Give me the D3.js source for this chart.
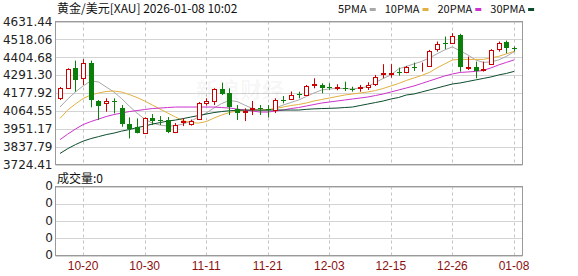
<!DOCTYPE html>
<html>
<head>
<meta charset="utf-8">
<script src="https://cdn.jsdelivr.net/npm/d3@7"></script>
<style>
body { margin: 0; background: #fff; }
text { font-family: "Noto Sans CJK SC", "DejaVu Sans", sans-serif; }
</style>
</head>
<body>
<div id="chart"></div>
<script>
// 黄金/美元 daily K line, 10-15 .. 01-08 (60 sessions)

// date labels and the session index they sit on
const tickLabels = ["10-20", "10-30", "11-11", "11-21", "12-03", "12-15", "12-26", "01-08"];
const tickIndex = [3, 11, 19, 27, 35, 43, 51, 59];

// price axis ticks
const yTicks = [3724.41, 3837.79, 3951.17, 4064.55, 4177.92, 4291.30, 4404.68, 4518.06, 4631.44];
const volTicks = [0, 0, 0, 0, 0];

// OHLC
const openP = [4144.2, 4207.8, 4335.0, 4271.4, 4366.8, 4127.1, 4112.4, 4129.0, 4080.6, 3978.8,
    3959.7, 3925.4, 4020.8, 4006.2, 4006.2, 3931.8, 3993.5, 3978.8, 4010.6, 4117.5,
    4129.0, 4201.5, 4176.0, 4074.3, 4057.1, 4076.2, 4080.6, 4074.3, 4069.8, 4131.5,
    4139.8, 4174.7, 4165.2, 4230.1, 4228.8, 4214.2, 4211.6, 4207.8, 4203.4, 4208.5,
    4218.0, 4233.3, 4296.9, 4300.0, 4313.4, 4310.2, 4345.2, 4335.0, 4349.7, 4455.9,
    4494.1, 4494.1, 4546.8, 4338.9, 4341.4, 4326.1, 4362.4, 4455.9, 4504.2, 4462.3];
const highP = [4216.1, 4335.0, 4383.4, 4392.3, 4383.4, 4133.4, 4144.2, 4144.2, 4101.6, 4023.4,
    4017.0, 4023.4, 4044.3, 4031.6, 4025.3, 3987.1, 4017.0, 4009.4, 4120.7, 4144.2,
    4207.8, 4243.4, 4207.8, 4101.6, 4080.6, 4127.1, 4101.6, 4101.6, 4144.2, 4158.8,
    4187.5, 4186.2, 4228.8, 4271.4, 4239.6, 4239.6, 4233.3, 4249.8, 4218.0, 4228.8,
    4246.0, 4292.5, 4360.5, 4360.5, 4338.9, 4349.7, 4370.7, 4370.7, 4451.4, 4504.2,
    4536.0, 4557.6, 4553.2, 4408.8, 4377.0, 4377.0, 4455.9, 4504.2, 4510.6, 4472.4];
const lowP = [4133.4, 4203.4, 4186.2, 4228.8, 4087.0, 4006.2, 4059.0, 4048.8, 3963.6, 3889.8,
    3921.6, 3917.1, 3974.4, 3974.4, 3923.5, 3923.5, 3968.0, 3971.2, 4006.2, 4098.4,
    4101.6, 4165.2, 4038.0, 4006.2, 3999.8, 4038.0, 4038.0, 4023.4, 4050.7, 4112.4,
    4133.4, 4144.2, 4158.8, 4207.8, 4176.0, 4197.0, 4195.1, 4190.6, 4186.2, 4186.2,
    4197.0, 4222.5, 4271.4, 4275.2, 4288.0, 4303.2, 4317.9, 4313.4, 4345.2, 4440.6,
    4455.9, 4489.6, 4313.4, 4324.2, 4271.4, 4313.4, 4356.0, 4440.6, 4429.6, 4440.6];
const closeP = [4207.8, 4328.7, 4260.6, 4366.8, 4133.4, 4097.2, 4129.0, 4118.8, 3980.7, 3950.9,
    3925.4, 4017.0, 4001.7, 4001.1, 3931.8, 3974.4, 4001.7, 3999.8, 4112.4, 4127.1,
    4201.5, 4171.6, 4087.0, 4052.6, 4063.4, 4084.4, 4074.3, 4069.8, 4133.4, 4127.1,
    4165.2, 4165.2, 4222.5, 4235.2, 4211.6, 4209.7, 4218.0, 4201.5, 4197.0, 4212.9,
    4228.8, 4281.6, 4303.2, 4305.1, 4303.2, 4345.2, 4338.9, 4338.9, 4445.1, 4489.6,
    4487.7, 4540.5, 4341.4, 4345.2, 4319.8, 4330.6, 4451.4, 4497.9, 4466.3, 4454.6];

// moving averages
const ma5 = [4088.9, 4139.8, 4184.3, 4222.5, 4254.3, 4247.9, 4216.1, 4184.3, 4142.9, 4095.2,
    4050.7, 4012.5, 3987.1, 3974.4, 3968.0, 3971.2, 3980.7, 3999.8, 4025.3, 4050.7,
    4082.5, 4111.1, 4130.2, 4123.9, 4101.6, 4079.3, 4066.6, 4065.3, 4082.5, 4101.6,
    4117.5, 4133.4, 4155.7, 4177.9, 4197.0, 4203.4, 4206.6, 4206.6, 4203.4, 4209.7,
    4219.3, 4244.7, 4270.2, 4292.4, 4330.6, 4346.5, 4362.4, 4378.3, 4400.6, 4426.0,
    4451.5, 4470.5, 4445.1, 4419.6, 4387.8, 4371.9, 4375.1, 4387.8, 4410.1, 4438.7];
const ma10 = [4017.0, 4069.8, 4108.0, 4142.9, 4165.2, 4177.9, 4187.5, 4190.6, 4184.3, 4168.4,
    4149.3, 4127.0, 4101.6, 4076.2, 4050.7, 4025.3, 4003.0, 3990.3, 3987.1, 3996.6,
    4018.9, 4038.0, 4053.9, 4063.4, 4066.6, 4069.8, 4069.8, 4073.0, 4079.3, 4088.9,
    4098.4, 4104.8, 4114.3, 4127.0, 4136.6, 4146.1, 4155.7, 4165.2, 4171.6, 4177.9,
    4184.3, 4193.8, 4206.6, 4222.5, 4238.3, 4257.4, 4273.3, 4289.2, 4308.3, 4337.0,
    4362.4, 4387.8, 4391.0, 4391.0, 4391.0, 4391.0, 4400.6, 4410.1, 4426.0, 4441.9];
const ma20 = [3882.1, 3917.1, 3948.9, 3977.6, 3996.6, 4012.5, 4028.4, 4041.2, 4050.7, 4060.2,
    4066.6, 4073.0, 4079.3, 4082.5, 4085.7, 4088.9, 4088.9, 4088.9, 4088.9, 4088.9,
    4088.9, 4085.7, 4082.5, 4076.2, 4069.8, 4063.4, 4057.1, 4057.1, 4063.4, 4069.8,
    4079.3, 4085.7, 4095.2, 4104.8, 4114.3, 4120.7, 4127.0, 4133.4, 4139.8, 4146.1,
    4152.5, 4162.0, 4171.6, 4184.3, 4197.0, 4209.7, 4222.5, 4238.3, 4254.3, 4270.2,
    4286.1, 4298.8, 4308.3, 4311.5, 4314.7, 4321.0, 4337.0, 4356.0, 4371.9, 4387.8];
const ma30 = [3794.4, 3824.9, 3850.3, 3872.6, 3888.5, 3901.2, 3913.9, 3923.5, 3936.2, 3945.8,
    3958.5, 3968.0, 3980.7, 3990.3, 3999.8, 4006.2, 4015.7, 4025.3, 4034.8, 4044.3,
    4053.9, 4060.2, 4065.3, 4067.9, 4069.8, 4069.8, 4069.8, 4069.8, 4069.8, 4069.8,
    4069.8, 4069.8, 4074.2, 4077.4, 4079.3, 4080.6, 4082.5, 4085.7, 4088.9, 4098.4,
    4108.0, 4117.5, 4127.0, 4139.8, 4149.3, 4165.2, 4171.6, 4184.3, 4197.0, 4209.7,
    4222.5, 4235.2, 4241.5, 4251.1, 4260.6, 4270.2, 4279.7, 4292.4, 4302.0, 4314.7];

const maNames = ["5PMA", "10PMA", "20PMA", "30PMA"];
const maColors = ["#a8a8a8", "#e2b040", "#cc33cc", "#0d4d2d"];

const upColor = "#cc0000";
const downColor = "#0a800a";

const svgWidth = 578;
const svgHeight = 276;

// panel boxes
const main = { left: 55.5, right: 522.5, top: 21.5, bottom: 164.5 };
const vol = { top: 186.5, bottom: 255.5 };

const svg = d3.select("#chart")
    .append("svg")
    .attr("width", svgWidth)
    .attr("height", svgHeight);

const x = d3.scaleLinear().domain([0, 59]).range([60, 514]);
const y = d3.scaleLinear().domain([3724.41, 4631.44]).range([main.bottom, main.top]);
const yVol = d3.scaleLinear().domain([0, volTicks.length - 1]).range([vol.bottom, vol.top]);
const px = v => Math.round(v) + 0.5;

// horizontal grid, main panel
svg.append("g")
    .selectAll("line")
    .data(yTicks)
    .enter().append("line")
    .attr("x1", main.left).attr("x2", main.right)
    .attr("y1", d => px(y(d))).attr("y2", d => px(y(d)))
    .attr("stroke", "#d4d4d4");

// horizontal grid, volume panel
svg.append("g")
    .selectAll("line")
    .data(volTicks)
    .enter().append("line")
    .attr("x1", main.left).attr("x2", main.right)
    .attr("y1", (d, i) => px(yVol(i))).attr("y2", (d, i) => px(yVol(i)))
    .attr("stroke", "#d4d4d4");

// vertical dashed grid, both panels
[[main.top, main.bottom], [vol.top, vol.bottom]].forEach(([t, b]) => {
    svg.append("g")
        .selectAll("line")
        .data(tickIndex)
        .enter().append("line")
        .attr("x1", d => px(x(d))).attr("x2", d => px(x(d)))
        .attr("y1", t).attr("y2", b)
        .attr("stroke", "#c4c4c4")
        .attr("stroke-dasharray", "3,3");
});

// frames
svg.append("rect")
    .attr("x", main.left).attr("y", main.top)
    .attr("width", main.right - main.left).attr("height", main.bottom - main.top)
    .attr("fill", "none").attr("stroke", "#9a9a9a");
svg.append("rect")
    .attr("x", main.left).attr("y", vol.top)
    .attr("width", main.right - main.left).attr("height", vol.bottom - vol.top)
    .attr("fill", "none").attr("stroke", "#9a9a9a");

// faint watermark
svg.append("text")
    .attr("x", 240).attr("y", 98)
    .attr("text-anchor", "middle")
    .style("font-size", "22px")
    .style("font-weight", "bold")
    .attr("fill", "#000")
    .attr("fill-opacity", 0.05)
    .text("新浪财经");

// y axis labels
const yAxis = svg.append("g")
    .attr("transform", `translate(${main.left - 1},0)`)
    .call(d3.axisLeft(y).tickValues(yTicks).tickFormat(d3.format(".2f")).tickSize(0).tickPadding(2));
yAxis.select(".domain").remove();
yAxis.selectAll("text")
    .attr("fill", "#222")
    .style("font-family", "'DejaVu Sans', sans-serif")
    .style("font-size", "12px");

// volume labels
svg.append("g")
    .selectAll("text")
    .data(volTicks)
    .enter().append("text")
    .attr("x", 53).attr("y", (d, i) => yVol(i))
    .attr("text-anchor", "end")
    .attr("dominant-baseline", "middle")
    .style("font-family", "'DejaVu Sans', sans-serif")
    .style("font-size", "12px")
    .attr("fill", "#222")
    .text(d => d);

// date labels
svg.append("g")
    .selectAll("text")
    .data(tickLabels)
    .enter().append("text")
    .attr("x", (d, i) => x(tickIndex[i]))
    .attr("y", 267)
    .attr("text-anchor", "middle")
    .attr("dominant-baseline", "middle")
    .style("font-family", "'Liberation Sans', sans-serif")
    .style("font-size", "12px")
    .attr("fill", "#8b1010")
    .text(d => d);

// MA lines
const line = d3.line().x((d, i) => x(i)).y(d => y(d));
[ma5, ma10, ma20, ma30].forEach((s, k) => {
    svg.append("path")
        .datum(s)
        .attr("d", line)
        .attr("fill", "none")
        .attr("stroke", maColors[k])
        .attr("stroke-width", 1);
});

// candles
const candles = svg.append("g")
    .selectAll("g")
    .data(openP.map((o, i) => ({ i, o, h: highP[i], l: lowP[i], c: closeP[i] })))
    .enter().append("g");

candles.append("line")
    .attr("x1", d => px(x(d.i))).attr("x2", d => px(x(d.i)))
    .attr("y1", d => y(d.h)).attr("y2", d => y(d.l))
    .attr("stroke", d => d.c >= d.o ? upColor : downColor);

candles.append("rect")
    .attr("x", d => Math.round(x(d.i)) - (d.c >= d.o ? 1.5 : 2))
    .attr("width", d => d.c >= d.o ? 4 : 5)
    .attr("y", d => d.c >= d.o ? Math.round(y(d.c)) + 0.5 : Math.round(y(d.o)))
    .attr("height", d => {
        const hgt = Math.abs(Math.round(y(d.o)) - Math.round(y(d.c)));
        return d.c >= d.o ? Math.max(hgt, 0) : Math.max(hgt, 1);
    })
    .attr("fill", d => d.c >= d.o ? "#fff" : downColor)
    .attr("stroke", d => d.c >= d.o ? upColor : "none");

// title
svg.append("text")
    .attr("x", 57).attr("y", 13)
    .style("font-size", "12px")
    .attr("fill", "#111")
    .text("黄金/美元[XAU] 2026-01-08 10:02");

// legend
let lx = 338;
maNames.forEach((name, k) => {
    const t = svg.append("text")
        .attr("x", lx).attr("y", 13)
        .style("font-size", "11px")
        .attr("fill", "#111")
        .text(name);
    const w = t.node().getComputedTextLength();
    svg.append("rect")
        .attr("x", lx + w + 3).attr("y", 8)
        .attr("width", 6).attr("height", 3)
        .attr("fill", maColors[k]);
    lx += w + 3 + 6 + 9;
});

// volume title
svg.append("text")
    .attr("x", 57).attr("y", 183)
    .style("font-size", "12px")
    .attr("fill", "#111")
    .text("成交量:0");
</script>
</body>
</html>
